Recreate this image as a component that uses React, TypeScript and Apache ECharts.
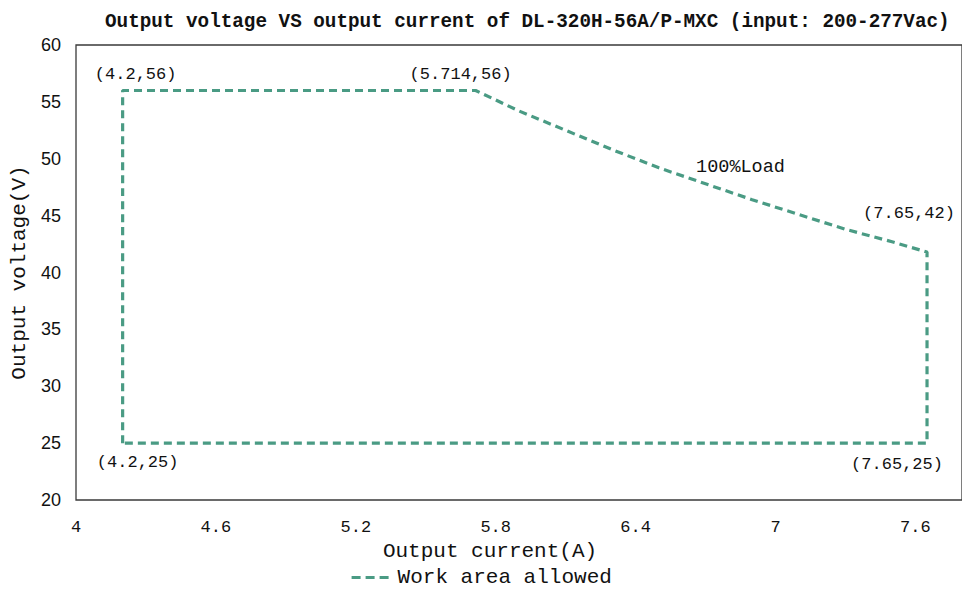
import React, { useEffect, useRef } from "react";
import * as echarts from "echarts";

// Boundary of the allowed work area (output current A, output voltage V), in drawing order
const currentA = [4.2, 4.2, 5.714, 5.9, 6.1, 6.3, 6.5, 6.7, 6.9, 7.1, 7.3, 7.5, 7.65, 7.65, 4.2];
const voltageV = [25, 56, 56, 54.2, 52.5, 50.8, 49.2, 47.8, 46.4, 45.1, 43.8, 42.7, 41.8, 25, 25];

// Corner annotations
const cornerA = [4.2, 5.714, 7.65, 4.2, 7.65];
const cornerV = [56, 56, 42, 25, 25];

// Curve annotation
const loadLabel = "100%Load";
const loadLabelA = 6.85;
const loadLabelV = 49.2;

const xTicks = [4, 4.6, 5.2, 5.8, 6.4, 7, 7.6];
const yTicks = [20, 25, 30, 35, 40, 45, 50, 55, 60];

const seriesName = "Work area allowed";
const titleText = "Output voltage VS output current of DL-320H-56A/P-MXC (input: 200-277Vac)";

const MONO = "'Liberation Mono', 'DejaVu Sans Mono', monospace";
const SANS = "'Liberation Sans', Arial, sans-serif";
const LINE_COLOR = "#4a9b84";
const TEXT_COLOR = "#111111";

// label offsets for each corner (layout only)
const cornerOffsets: [number, number][] = [
  [13, -16],
  [-15, -16],
  [-18, -36],
  [15, 19],
  [-30, 21],
];

export default function App() {
  const ref = useRef<HTMLDivElement>(null);

  useEffect(() => {
    if (!ref.current) return;
    const chart = echarts.init(ref.current, undefined, { renderer: "svg" });

    const lineData = currentA.map((a, i) => [a, voltageV[i]]);
    const cornerData = cornerA.map((a, i) => ({
      value: [a, cornerV[i]],
      label: { offset: cornerOffsets[i] },
    }));

    const option: echarts.EChartsOption = {
      animation: false,
      backgroundColor: "#ffffff",
      title: {
        text: titleText,
        left: 100,
        top: 7,
        textStyle: {
          fontFamily: MONO,
          fontSize: 19.3,
          fontWeight: "bold",
          color: TEXT_COLOR,
        },
      },
      legend: {
        data: [seriesName],
        left: 350,
        top: 567,
        padding: 0,
        itemWidth: 42,
        itemHeight: 14,
        itemGap: 4,
        itemStyle: { opacity: 0 },
        lineStyle: { width: 3.2, type: [9, 5] },
        textStyle: { fontFamily: MONO, fontSize: 21, color: TEXT_COLOR, padding: [0, 0, 0, -1] },
      },
      grid: {
        left: 76,
        right: 0,
        top: 45,
        bottom: 91,
        show: true,
        borderColor: "#3a3a3a",
        borderWidth: 1.3,
        backgroundColor: "transparent",
      },
      xAxis: {
        type: "value",
        min: 4,
        max: 7.8,
        interval: 0.6,
        name: "Output current(A)",
        nameLocation: "middle",
        nameGap: 41,
        nameTextStyle: {
          fontFamily: MONO,
          fontSize: 21,
          color: TEXT_COLOR,
          padding: [0, 58, 0, 0],
        },
        axisLine: { show: false },
        axisTick: { show: false },
        splitLine: { show: false },
        axisLabel: {
          fontFamily: MONO,
          fontSize: 17,
          color: TEXT_COLOR,
          margin: 19,
          showMaxLabel: false,
          formatter: (v: number) => {
            const t = xTicks.find((x) => Math.abs(x - v) < 1e-6);
            return t === undefined ? "" : String(t);
          },
        },
      },
      yAxis: {
        type: "value",
        min: 20,
        max: 60,
        interval: 5,
        name: "Output voltage(V)",
        nameLocation: "middle",
        nameGap: 46,
        nameTextStyle: { fontFamily: MONO, fontSize: 21, color: TEXT_COLOR },
        axisLine: { show: false },
        axisTick: { show: false },
        splitLine: { show: false },
        axisLabel: {
          fontFamily: SANS,
          fontSize: 18,
          color: TEXT_COLOR,
          margin: 15,
          formatter: (v: number) => {
            const t = yTicks.find((y) => Math.abs(y - v) < 1e-6);
            return t === undefined ? "" : String(t);
          },
        },
      },
      series: [
        {
          name: seriesName,
          type: "line",
          data: lineData,
          symbol: "none",
          lineStyle: { color: LINE_COLOR, width: 3.2, type: [8, 5] },
          itemStyle: { color: LINE_COLOR },
          z: 3,
        },
        {
          name: "corners",
          type: "scatter",
          data: cornerData,
          symbolSize: 0,
          silent: true,
          label: {
            show: true,
            position: "inside",
            fontFamily: MONO,
            fontSize: 17,
            color: TEXT_COLOR,
            opacity: 1,
            formatter: (p: any) => `(${p.value[0]},${p.value[1]})`,
          },
          z: 4,
        },
        {
          name: "load",
          type: "scatter",
          data: [[loadLabelA, loadLabelV]],
          symbolSize: 0,
          silent: true,
          label: {
            show: true,
            position: "inside",
            fontFamily: MONO,
            fontSize: 18.5,
            color: TEXT_COLOR,
            opacity: 1,
            formatter: () => loadLabel,
          },
          z: 4,
        },
      ],
    };

    chart.setOption(option);
    return () => chart.dispose();
  }, []);

  return (
    <div
      ref={ref}
      style={{ position: "fixed", left: 0, top: 0, width: 962, height: 591, background: "#fff" }}
    />
  );
}
